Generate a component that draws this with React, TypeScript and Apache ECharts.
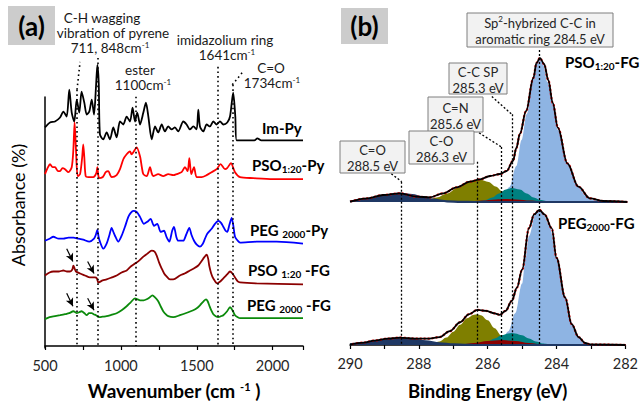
import React, { useEffect, useRef } from "react";
import * as echarts from "echarts";

const FONT = "Lato, 'Noto Sans', sans-serif";

// ---------------- Panel (a): FTIR spectra [wavenumber (cm-1), absorbance (a.u., stacked)] ----------------
const ftirImPy: number[][] = [
  [500, 22.0], [533, 22.5], [566, 22.6], [599, 23.0], [621, 23.6], [643, 23.1], [660, 25.8], [676, 23.5],
  [693, 22.6], [709, 24.8], [726, 23.5], [741, 25.6], [759, 24.5], [775, 23.3], [792, 23.6], [808, 24.8],
  [823, 23.3], [836, 26.1], [845, 28.3], [854, 26.5], [862, 21.3], [884, 20.8], [906, 21.5], [928, 20.8],
  [950, 22.0], [972, 21.0], [994, 22.6], [1016, 22.3], [1038, 23.1], [1060, 22.6], [1077, 24.0], [1093, 22.6],
  [1108, 23.5], [1126, 22.3], [1148, 23.5], [1165, 24.5], [1181, 23.1], [1203, 20.8], [1225, 22.1], [1246, 21.5],
  [1269, 22.3], [1290, 21.6], [1312, 22.1], [1335, 21.8], [1356, 22.0], [1378, 21.6], [1411, 22.6], [1433, 22.3],
  [1455, 21.8], [1477, 22.1], [1499, 21.8], [1510, 23.8], [1521, 22.1], [1543, 21.6], [1565, 22.3], [1587, 22.1],
  [1609, 22.6], [1631, 22.3], [1653, 22.6], [1675, 22.3], [1701, 22.5], [1719, 23.1], [1740, 25.5], [1754, 23.1],
  [1763, 20.7], [1829, 20.7], [1880, 20.7], [1899, 20.9], [1925, 20.7], [2200, 20.7],
];
const ftirPsoPy: number[][] = [
  [500, 17.3], [520, 18.0], [533, 18.3], [550, 18.0], [566, 18.0], [585, 17.6], [599, 17.6], [615, 17.9],
  [632, 17.8], [654, 17.5], [676, 18.0], [687, 19.8], [695, 22.5], [704, 19.8], [715, 17.1], [731, 17.3],
  [745, 19.0], [752, 20.3], [759, 19.0], [768, 17.1], [785, 17.0], [818, 17.0], [838, 17.4], [845, 18.0],
  [851, 17.2], [858, 16.9], [880, 17.0], [889, 17.2], [900, 17.5], [917, 17.6], [930, 17.2], [939, 17.0],
  [972, 17.2], [994, 17.8], [1016, 18.8], [1038, 19.3], [1060, 19.6], [1070, 19.3], [1082, 19.5], [1104, 20.0],
  [1126, 19.1], [1138, 18.0], [1148, 17.3], [1170, 17.1], [1192, 18.0], [1203, 17.4], [1213, 17.1], [1246, 17.3],
  [1279, 17.1], [1312, 17.3], [1345, 17.2], [1367, 17.3], [1400, 17.5], [1422, 18.0], [1440, 17.6], [1451, 18.9],
  [1464, 17.3], [1482, 18.0], [1499, 17.0], [1532, 17.0], [1565, 17.2], [1598, 17.5], [1631, 17.8], [1657, 18.3],
  [1686, 17.8], [1700, 17.9], [1725, 18.4], [1752, 17.5], [1785, 17.0], [1872, 16.9], [2000, 16.8], [2200, 16.8],
];
const ftirPegPy: number[][] = [
  [500, 10.6], [530, 10.8], [555, 11.0], [590, 10.8], [621, 10.8], [655, 10.9], [687, 10.9], [720, 10.8],
  [752, 10.7], [792, 10.5], [823, 10.8], [835, 11.2], [845, 11.7], [853, 11.0], [862, 10.5], [884, 9.8],
  [906, 10.3], [925, 11.2], [939, 11.9], [950, 11.5], [961, 11.1], [983, 10.5], [1005, 11.1], [1027, 12.0],
  [1049, 13.0], [1065, 13.4], [1082, 13.6], [1104, 13.5], [1126, 13.0], [1152, 12.3], [1174, 12.5], [1196, 12.8],
  [1218, 12.1], [1240, 12.3], [1262, 11.5], [1284, 11.6], [1300, 11.0], [1319, 10.5], [1338, 11.6], [1350, 12.0],
  [1365, 11.0], [1378, 10.6], [1411, 10.6], [1430, 11.2], [1451, 11.9], [1465, 11.2], [1482, 10.6], [1500, 10.2],
  [1521, 10.0], [1540, 10.3], [1554, 10.8], [1569, 11.3], [1598, 11.8], [1620, 12.3], [1642, 12.6], [1660, 12.4],
  [1675, 12.0], [1690, 11.6], [1701, 11.5], [1715, 12.2], [1730, 12.9], [1742, 12.0], [1752, 11.0], [1770, 10.6],
  [1785, 10.4], [1894, 10.5], [2026, 10.5], [2200, 10.3],
];
const ftirPsoFG: number[][] = [
  [500, 7.1], [530, 7.4], [555, 7.5], [590, 7.5], [621, 7.6], [645, 7.5], [665, 7.5], [680, 7.7],
  [687, 8.1], [695, 7.8], [704, 7.5], [731, 7.3], [764, 7.1], [796, 6.9], [829, 6.9], [842, 6.8],
  [851, 6.4], [880, 6.6], [906, 6.7], [940, 6.9], [972, 7.1], [1005, 7.4], [1038, 7.6], [1065, 8.0],
  [1093, 8.3], [1120, 8.6], [1148, 9.0], [1175, 9.3], [1203, 9.6], [1222, 9.5], [1236, 9.1], [1252, 8.4],
  [1269, 7.8], [1285, 7.3], [1301, 7.0], [1323, 6.7], [1345, 6.7], [1389, 7.1], [1420, 7.3], [1455, 7.6],
  [1480, 7.8], [1510, 8.1], [1530, 8.5], [1543, 8.8], [1565, 9.2], [1575, 8.8], [1582, 8.1], [1595, 7.3],
  [1609, 6.8], [1635, 6.3], [1655, 6.5], [1675, 6.8], [1700, 7.2], [1719, 7.5], [1735, 7.3], [1752, 6.9],
  [1770, 6.5], [1785, 6.4], [1894, 6.3], [2200, 6.2],
];
const ftirPegFG: number[][] = [
  [500, 2.7], [530, 2.9], [566, 3.0], [600, 3.1], [632, 3.2], [660, 3.3], [687, 3.5], [700, 3.4],
  [709, 3.3], [725, 3.4], [741, 3.5], [760, 3.3], [775, 3.1], [790, 3.3], [808, 3.3], [820, 3.2],
  [836, 3.1], [858, 2.9], [880, 2.95], [906, 3.0], [940, 3.15], [972, 3.3], [1005, 3.6], [1038, 4.0],
  [1065, 4.4], [1093, 4.8], [1110, 4.7], [1126, 4.6], [1150, 4.6], [1170, 4.7], [1190, 4.9], [1207, 5.1],
  [1225, 4.9], [1246, 4.5], [1262, 4.0], [1279, 3.5], [1295, 3.2], [1312, 3.0], [1345, 2.9], [1389, 3.1],
  [1444, 3.4], [1477, 3.6], [1500, 3.8], [1521, 4.1], [1545, 4.5], [1561, 4.7], [1572, 4.5], [1582, 4.1],
  [1595, 3.6], [1609, 3.2], [1625, 3.0], [1642, 2.9], [1660, 3.0], [1675, 3.1], [1700, 3.5], [1719, 3.9],
  [1735, 3.6], [1752, 3.1], [1770, 2.9], [1785, 2.8], [2200, 2.8],
];
const ftirTickLabels = [500, 1000, 1500, 2000];
// band marker lines: wavenumber and upper end (absorbance units)
const ftirBands = [711, 848, 1100, 1641, 1734];
const ftirBandTops = [25.8, 29.0, 25.1, 28.1, 26.3];
const ftirLeaders = [[711, 25.8, 731, 28.6], [1734, 26.3, 1804, 27.6]];
const ftirArrows = [[643, 9.8, 684, 8.5], [781, 8.5, 823, 7.3], [643, 5.3, 684, 4.0], [781, 4.8, 823, 3.6]];

// ---------------- Panel (b): XPS C1s [binding energy (eV), intensity above own baseline] ----------------
const psoEnvelope: number[][] = [
  [282.0, 0], [282.7, 1], [283.08, 3.7], [283.41, 15.3], [283.73, 38.7], [284.0, 74], [284.15, 99], [284.28, 122],
  [284.4, 138], [284.52, 144], [284.62, 139], [284.71, 124], [284.92, 91], [285.1, 68], [285.2, 54], [285.3, 41],
  [285.48, 31], [285.67, 28], [285.96, 26], [286.25, 22.7], [286.54, 20.3], [286.92, 14.7], [287.31, 8.7],
  [287.69, 4.7], [288.08, 5.3], [288.56, 8.7], [289.04, 7], [289.5, 3.7], [290.0, 0.3],
];
const psoSp2: number[][] = [
  [282.6, 0], [283.0, 2], [283.2, 6], [283.4, 15], [283.7, 38], [284.0, 72], [284.15, 98], [284.3, 120],
  [284.45, 140], [284.52, 143], [284.6, 140], [284.7, 125], [284.9, 88], [285.05, 62], [285.2, 36], [285.4, 15],
  [285.6, 5], [285.8, 1], [286.0, 0],
];
const psoCO: number[][] = [
  [284.8, 0.3], [285.0, 1.2], [285.2, 3], [285.4, 6], [285.6, 10.5], [285.8, 15.5], [286.0, 20], [286.25, 22.5],
  [286.4, 22], [286.6, 19.5], [286.9, 14], [287.2, 8.5], [287.5, 4.5], [287.8, 1.5], [288.1, 0],
];
const psoCCsp: number[][] = [
  [284.3, 0.5], [284.5, 1.9], [284.7, 4.5], [284.9, 8.5], [285.1, 12.4], [285.33, 14], [285.5, 12.4], [285.7, 8.5],
  [285.9, 4.5], [286.1, 1.9], [286.3, 0.6], [286.5, 0],
];
const psoCN: number[][] = [
  [284.4, 0], [284.8, 1.5], [285.2, 2.6], [285.5, 3], [285.8, 2.6], [286.2, 1.5], [286.6, 0.4], [286.9, 0],
];
const psoCdO: number[][] = [
  [282.0, 0], [286.4, 0], [286.8, 0.1], [287.2, 0.7], [287.6, 2.3], [287.9, 4.6], [288.2, 7], [288.56, 8.5],
  [288.9, 7], [289.2, 4.6], [289.6, 2], [290.0, 0.5],
];
const pegEnvelope: number[][] = [
  [282.0, 0], [283.0, 0.5], [283.17, 2], [283.36, 8], [283.56, 21], [283.75, 48], [284.0, 88], [284.14, 118],
  [284.35, 132], [284.5, 136.5], [284.65, 132], [284.8, 118], [285.0, 76], [285.15, 58], [285.3, 44.5],
  [285.48, 34.5], [285.65, 30.5], [285.8, 32], [286.05, 34.5], [286.3, 35.5], [286.55, 31], [286.8, 23],
  [287.1, 14], [287.4, 8], [287.7, 6.5], [288.1, 6.5], [288.56, 7.5], [288.9, 6.5], [289.3, 4.5], [289.6, 2.5],
  [290.0, 0.5],
];
const pegSp2: number[][] = [
  [282.6, 0], [283.0, 0.5], [283.2, 2.5], [283.4, 9], [283.6, 25], [283.8, 52], [284.0, 88], [284.2, 120],
  [284.4, 134], [284.5, 136], [284.6, 134], [284.8, 110], [284.9, 88], [285.0, 62], [285.2, 32], [285.4, 14],
  [285.6, 4], [285.8, 1], [286.0, 0],
];
const pegCO: number[][] = [
  [285.0, 0.5], [285.2, 1.5], [285.4, 4.5], [285.6, 9.5], [285.8, 17], [286.0, 25], [286.2, 30], [286.3, 31],
  [286.4, 30.5], [286.6, 27], [286.8, 20.5], [287.0, 13.5], [287.2, 7.5], [287.4, 3.5], [287.6, 1.5],
  [287.8, 0.5], [288.0, 0],
];
const pegCCsp: number[][] = [
  [284.2, 0.5], [284.4, 1.5], [284.6, 3.6], [284.8, 6.5], [285.0, 9.8], [285.2, 11.7], [285.3, 12], [285.4, 11.7],
  [285.6, 9.8], [285.8, 6.5], [286.0, 3.6], [286.2, 1.5], [286.4, 0.5], [286.6, 0],
];
const pegCN: number[][] = [
  [284.2, 0], [284.4, 0.5], [284.8, 2], [285.2, 4], [285.6, 5], [286.0, 4], [286.4, 2], [286.8, 0.5], [287.0, 0],
];
const pegCdO: number[][] = [
  [282.0, 0], [286.4, 0], [286.6, 0.1], [287.0, 0.6], [287.4, 1.7], [287.8, 3.6], [288.2, 5.7], [288.55, 6.5],
  [288.8, 6], [289.2, 4], [289.6, 2], [290.0, 0.7],
];
const xpsBands = [288.5, 286.3, 285.6, 285.3, 284.5];
const xpsBandTops = [165, 185, 200, 233, 298];
const xpsLeaders = [[288.8, 173, 288.5, 165], [286.35, 216.5, 285.6, 200], [285.88, 251, 285.3, 233]];
const xpsTickLabels = [290, 288, 286, 284, 282];

const COLORS = {
  sp2: "#8eb4e3",
  co: "#7f7f00",
  ccsp: "#008080",
  cn: "#8b0000",
  cdo: "#1f3864",
};

const sub = { fontSize: 10, fontWeight: "bold", fontFamily: FONT, fill: "#000", verticalAlign: "bottom", lineHeight: 10, padding: [7, 0, 0, 0] };
const sup = { fontSize: 8, fontFamily: FONT, fill: "#1a1a1a", verticalAlign: "top", lineHeight: 9, padding: [0, 0, 4, 0] };

function txt(text: string, x: number, y: number, opts: any = {}) {
  return {
    type: "text",
    x,
    y,
    rotation: opts.rotation || 0,
    silent: true,
    z: 100,
    style: {
      text,
      fill: opts.fill || "#1a1a1a",
      fontSize: opts.fontSize || 13.5,
      fontWeight: opts.fontWeight || "normal",
      fontFamily: FONT,
      textAlign: opts.align || "center",
      align: opts.align || "center",
      textVerticalAlign: "middle",
      verticalAlign: "middle",
      lineHeight: opts.lineHeight || 15,
      rich: opts.rich || { sub, sup },
    },
  };
}

function box(x: number, y: number, w: number, h: number, text: string) {
  return [
    {
      type: "rect",
      shape: { x, y, width: w, height: h },
      style: { fill: "#f2f2f2", stroke: "#7f7f7f", lineWidth: 1 },
      z: 90,
      silent: true,
    },
    txt(text, x + w / 2, y + h / 2 + 1, { fontSize: 13, lineHeight: 16, fill: "#262626" }),
  ];
}

function lineSeg(a: number[]) {
  return [{ coord: [a[0], a[1]] }, { coord: [a[2], a[3]] }];
}

export default function App() {
  const ref = useRef<HTMLDivElement>(null);
  useEffect(() => {
    if (!ref.current) return;
    const chart = echarts.init(ref.current, undefined, { renderer: "svg" });

    const ftirLine = (name: string, data: number[][], color: string, extra: any = {}) => ({
      type: "line",
      name,
      xAxisIndex: 0,
      yAxisIndex: 0,
      data,
      symbol: "none",
      smooth: 0.25,
      lineStyle: { color, width: 1.8 },
      itemStyle: { color },
      ...extra,
    });

    const comp = (name: string, data: number[][], color: string, idx: number, lineWidth = 0) => ({
      type: "line",
      name,
      xAxisIndex: idx,
      yAxisIndex: idx,
      data,
      symbol: "none",
      smooth: 0.35,
      smoothMonotone: "x",
      lineStyle: { color, width: lineWidth, opacity: lineWidth ? 1 : 0 },
      areaStyle: { color, opacity: 1 },
      itemStyle: { color },
    });
    const env = (name: string, data: number[][], idx: number, extra: any = {}) => [
      {
        type: "line",
        name: name + " fit",
        xAxisIndex: idx,
        yAxisIndex: idx,
        data,
        symbol: "none",
        smooth: 0.35,
        smoothMonotone: "x",
        lineStyle: { color: "#ff0000", width: 2.2, type: [2, 2] },
      },
      {
        type: "line",
        name,
        xAxisIndex: idx,
        yAxisIndex: idx,
        data,
        symbol: "none",
        smooth: 0.35,
        smoothMonotone: "x",
        lineStyle: { color: "#000", width: 1.8 },
        ...extra,
      },
    ];

    const dottedA = {
      silent: true,
      symbol: ["none", "none"],
      label: { show: false },
      lineStyle: { color: "#000", type: [1.6, 3], width: 1.6 },
      data: [
        ...ftirBands.map((b, i) => [{ coord: [b, ftirBandTops[i]] }, { coord: [b, 0] }]),
        ...ftirLeaders.map(lineSeg),
      ],
    };
    const arrowsA = {
      silent: true,
      symbol: ["none", "arrow"],
      symbolSize: [6, 8],
      label: { show: false },
      lineStyle: { color: "#000", type: "solid", width: 1.2 },
      data: ftirArrows.map(lineSeg),
    };
    const dottedB = {
      silent: true,
      symbol: ["none", "none"],
      label: { show: false },
      lineStyle: { color: "#000", type: [2, 2], width: 1.3 },
      data: [
        ...xpsBands.map((b, i) => [{ coord: [b, xpsBandTops[i]] }, { coord: [b, 0] }]),
        ...xpsLeaders.map(lineSeg),
      ],
    };

    const axisLabelStyle = { color: "#262626", fontSize: 14.5, fontFamily: FONT };

    const option: any = {
      animation: false,
      backgroundColor: "#ffffff",
      grid: [
        { left: 45, top: 47, width: 258, height: 301 },
        { left: 350, top: 48, width: 277.3, height: 300 },
        { left: 350, top: 48, width: 277.3, height: 154 },
        { left: 45, top: 97, width: 258, height: 251 },
      ],
      xAxis: [
        {
          gridIndex: 0,
          type: "value",
          min: 500,
          max: 2200,
          interval: 250,
          axisLine: { lineStyle: { color: "#000", width: 1.5 } },
          axisTick: { show: true, length: 4, lineStyle: { color: "#000", width: 1.2 } },
          axisLabel: {
            ...axisLabelStyle,
            margin: 12,
            formatter: (v: number) => (ftirTickLabels.includes(v) ? String(v) : ""),
          },
          splitLine: { show: false },
          name: "Wavenumber (cm {sup|-1} )",
          nameLocation: "middle",
          nameGap: 35,
          nameTextStyle: {
            fontSize: 19,
            fontWeight: "bold",
            fontFamily: FONT,
            color: "#000",
            rich: {
              sup: { fontSize: 11, fontWeight: "bold", fontFamily: FONT, color: "#000", verticalAlign: "top", lineHeight: 11, padding: [0, 0, 7, 0] },
            },
          },
        },
        {
          gridIndex: 1,
          type: "value",
          min: 282,
          max: 290,
          interval: 1,
          inverse: true,
          axisLine: { lineStyle: { color: "#000", width: 1.5 } },
          axisTick: { show: true, length: 4, lineStyle: { color: "#000", width: 1.2 } },
          axisLabel: {
            ...axisLabelStyle,
            margin: 11,
            formatter: (v: number) => (xpsTickLabels.includes(v) ? String(v) : ""),
          },
          splitLine: { show: false },
          name: "Binding Energy (eV)",
          nameLocation: "middle",
          nameGap: 36,
          nameTextStyle: { fontSize: 18.5, fontWeight: "bold", fontFamily: FONT, color: "#000" },
        },
        { gridIndex: 2, type: "value", min: 282, max: 290, inverse: true, show: false, splitLine: { show: false } },
        { gridIndex: 3, type: "value", min: 500, max: 2200, show: false, splitLine: { show: false } },
      ],
      yAxis: [
        {
          gridIndex: 0,
          type: "value",
          min: 0,
          max: 30.1,
          axisLine: { show: false },
          axisTick: { show: false },
          axisLabel: { show: false },
          splitLine: { show: false },
        },
        { gridIndex: 1, type: "value", min: 0, max: 300, show: false, splitLine: { show: false } },
        { gridIndex: 2, type: "value", min: 0, max: 154, show: false, splitLine: { show: false } },
        {
          gridIndex: 3,
          type: "value",
          min: 0,
          max: 25.1,
          axisLine: { show: true, lineStyle: { color: "#000", width: 1.5 } },
          axisTick: { show: false },
          axisLabel: { show: false },
          splitLine: { show: false },
        },
      ],
      series: [
        ftirLine("Im-Py", ftirImPy, "#000000"),
        ftirLine("PSO1:20-Py", ftirPsoPy, "#ff0000"),
        ftirLine("PEG2000-Py", ftirPegPy, "#0000ff"),
        ftirLine("PSO1:20-FG", ftirPsoFG, "#8b0000", { markLine: arrowsA }),
        ftirLine("PEG2000-FG", ftirPegFG, "#0b8a0b", { markLine: dottedA }),
        // XPS PSO1:20-FG (upper)
        comp("PSO sp2 C-C", psoSp2, COLORS.sp2, 2),
        comp("PSO C-O", psoCO, COLORS.co, 2),
        comp("PSO C-C SP", psoCCsp, COLORS.ccsp, 2),
        comp("PSO C=N", psoCN, COLORS.cn, 2),
        comp("PSO C=O", psoCdO, COLORS.cdo, 2, 2.2),
        ...env("PSO1:20-FG C1s", psoEnvelope, 2),
        // XPS PEG2000-FG (lower)
        comp("PEG sp2 C-C", pegSp2, COLORS.sp2, 1),
        comp("PEG C-O", pegCO, COLORS.co, 1),
        comp("PEG C-C SP", pegCCsp, COLORS.ccsp, 1),
        comp("PEG C=N", pegCN, COLORS.cn, 1),
        comp("PEG C=O", pegCdO, COLORS.cdo, 1, 2.2),
        ...env("PEG2000-FG C1s", pegEnvelope, 1, { markLine: dottedB }),
      ],
      graphic: [
        { type: "rect", shape: { x: 8, y: 6, width: 47, height: 39 }, style: { fill: "#cccccc" }, silent: true },
        txt("(a)", 31.5, 26, { fontSize: 26, fontWeight: "bold", fill: "#000", lineHeight: 28 }),
        { type: "rect", shape: { x: 341, y: 8, width: 47, height: 36 }, style: { fill: "#cccccc" }, silent: true },
        txt("(b)", 364.5, 26, { fontSize: 26, fontWeight: "bold", fill: "#000", lineHeight: 28 }),
        // panel (a) annotations
        txt("C-H wagging", 102, 18),
        txt("vibration of pyrene", 113, 33),
        txt("711, 848cm{sup|-1}", 110, 48),
        txt("ester", 140, 70),
        txt("1100cm{sup|-1}", 143, 85),
        txt("imidazolium ring", 225, 40),
        txt("1641cm{sup|-1}", 227, 55),
        txt("C=O", 271, 68),
        txt("1734cm{sup|-1}", 272, 83),
        // spectrum labels (a)
        txt("Im-Py", 262, 128, { align: "left", fontSize: 15, fontWeight: "bold", fill: "#000", lineHeight: 17 }),
        txt("PSO{sub|1:20}-Py", 252, 165, { align: "left", fontSize: 15, fontWeight: "bold", fill: "#000", lineHeight: 17 }),
        txt("PEG {sub|2000}-Py", 250, 230, { align: "left", fontSize: 15, fontWeight: "bold", fill: "#000", lineHeight: 17 }),
        txt("PSO {sub|1:20} -FG", 248, 270, { align: "left", fontSize: 15, fontWeight: "bold", fill: "#000", lineHeight: 17 }),
        txt("PEG {sub|2000} -FG", 247, 305, { align: "left", fontSize: 15, fontWeight: "bold", fill: "#000", lineHeight: 17 }),
        txt("Absorbance (%)", 18, 205, { fontSize: 18, fill: "#000", rotation: Math.PI / 2, lineHeight: 20 }),
        // panel (b) boxes
        ...box(467, 13, 146, 34, "Sp{sup|2}-hybrized C-C in\naromatic ring 284.5 eV"),
        ...box(449, 63, 58, 31, "C-C SP\n285.3 eV"),
        ...box(428, 97, 55, 35, "C=N\n285.6 eV"),
        ...box(409, 131, 65, 33, "C-O\n286.3 eV"),
        ...box(340, 141, 65, 32, "C=O\n288.5 eV"),
        txt("PSO{sub|1:20}-FG", 565, 62, { align: "left", fontSize: 15, fontWeight: "bold", fill: "#000", lineHeight: 17 }),
        txt("PEG{sub|2000}-FG", 558, 223, { align: "left", fontSize: 15, fontWeight: "bold", fill: "#000", lineHeight: 17 }),
      ],
    };
    chart.setOption(option);
    return () => chart.dispose();
  }, []);
  return (
    <div
      ref={ref}
      style={{ position: "fixed", left: 0, top: 0, width: 641, height: 405, background: "#fff" }}
    />
  );
}
